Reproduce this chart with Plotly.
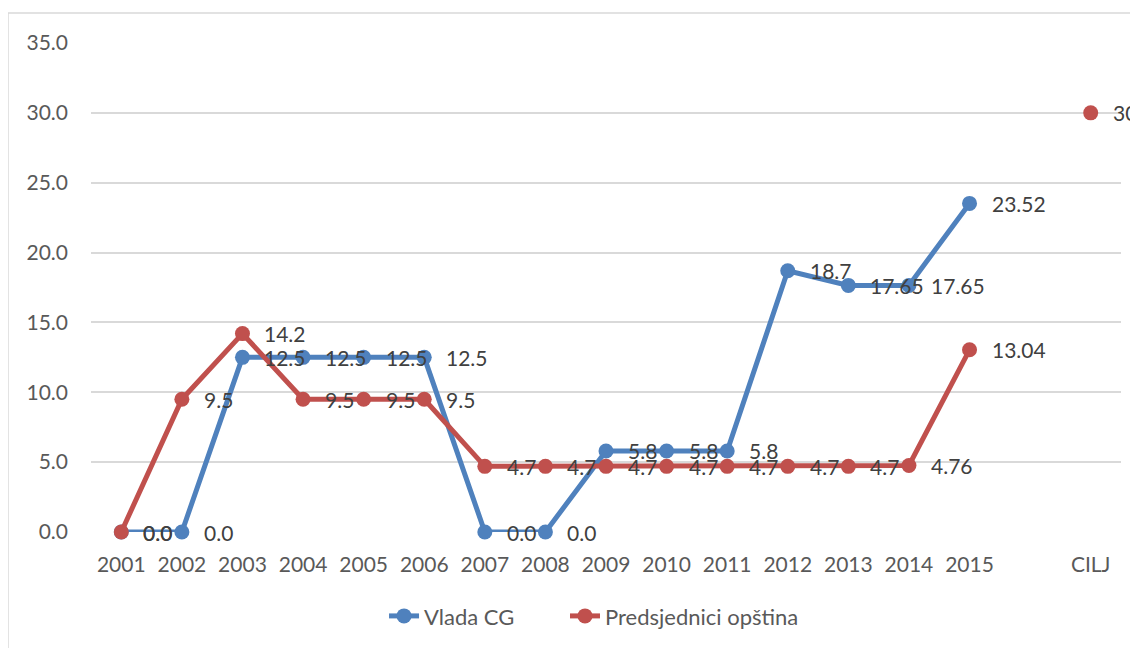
import plotly.graph_objects as go

categories = ["2001", "2002", "2003", "2004", "2005", "2006", "2007", "2008",
              "2009", "2010", "2011", "2012", "2013", "2014", "2015", " ", "CILJ"]

vlada_cg = [0.0, 0.0, 12.5, 12.5, 12.5, 12.5, 0.0, 0.0,
            5.8, 5.8, 5.8, 18.7, 17.65, 17.65, 23.52, None, None]
vlada_labels = ["0.0", "0.0", "12.5", "12.5", "12.5", "12.5", "0.0", "0.0",
                "5.8", "5.8", "5.8", "18.7", "17.65", "17.65", "23.52", "", ""]

predsjednici = [0.0, 9.5, 14.2, 9.5, 9.5, 9.5, 4.7, 4.7,
                4.7, 4.7, 4.7, 4.7, 4.7, 4.76, 13.04, None, 30]
predsjednici_labels = ["0.0", "9.5", "14.2", "9.5", "9.5", "9.5", "4.7", "4.7",
                       "4.7", "4.7", "4.7", "4.7", "4.7", "4.76", "13.04", "", "30"]

y_ticks = [0, 5, 10, 15, 20, 25, 30, 35]

BLUE = "#4F81BD"
RED = "#C0504D"
FONT = "Lato"
FS = 21

fig = go.Figure()
fig.add_trace(go.Scatter(
    x=categories, y=vlada_cg, name="Vlada CG", mode="lines+markers",
    line=dict(color=BLUE, width=5), marker=dict(color=BLUE, size=15),
    connectgaps=False, cliponaxis=False, legend="legend",
))
fig.add_trace(go.Scatter(
    x=categories, y=predsjednici, name="Predsjednici opština", mode="lines+markers",
    line=dict(color=RED, width=5), marker=dict(color=RED, size=15),
    connectgaps=False, cliponaxis=False, legend="legend2",
))

# data labels (right of each point), positioned by category index
annotations = []
for values, labels in ((vlada_cg, vlada_labels), (predsjednici, predsjednici_labels)):
    for idx, (val, lab) in enumerate(zip(values, labels)):
        if val is None or lab == "":
            continue
        annotations.append(dict(
            x=idx, y=val, xref="x", yref="y", text=lab, showarrow=False,
            xanchor="left", yanchor="middle", xshift=20,
            font=dict(family=FONT, size=FS, color="#404040"),
        ))

legend_font = dict(family=FONT, size=FS + 1, color="#595959")

fig.update_layout(
    width=1130, height=640,
    margin=dict(l=83, r=17, t=35, b=116, autoexpand=False),
    paper_bgcolor="white", plot_bgcolor="white",
    font=dict(family=FONT, size=FS, color="#595959"),
    xaxis=dict(type="category", categoryorder="array", categoryarray=categories,
               range=[-0.5, len(categories) - 0.5],
               showgrid=False, showline=False, ticks="", zeroline=False,
               automargin=False, ticklabelstandoff=18,
               tickfont=dict(family=FONT, size=FS, color="#595959")),
    yaxis=dict(range=[0, 35], tickvals=y_ticks, tickformat=".1f",
               showgrid=True, gridcolor="#D9D9D9", gridwidth=1.5,
               zeroline=False, showline=False, ticks="", ticklabelstandoff=22,
               automargin=False,
               tickfont=dict(family=FONT, size=FS, color="#595959")),
    legend=dict(orientation="h", x=0.2845, xanchor="left", y=-0.172, yanchor="middle",
                font=legend_font),
    legend2=dict(orientation="h", x=0.4602, xanchor="left", y=-0.172, yanchor="middle",
                 font=legend_font),
    annotations=annotations,
    shapes=[dict(type="rect", xref="paper", yref="paper",
                 x0=-0.0806, x1=1.05, y0=-0.3, y1=1.0613,
                 line=dict(color="#D9D9D9", width=1.5), fillcolor="rgba(0,0,0,0)",
                 layer="below")],
    showlegend=True,
)

fig.write_html("out.html")
